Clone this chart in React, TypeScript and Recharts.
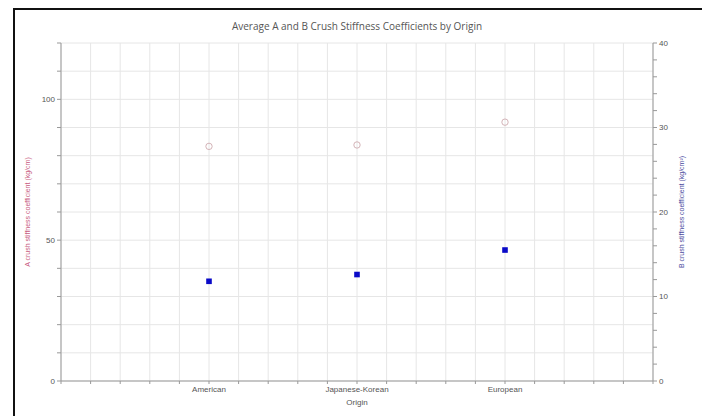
import React from "react";
import { ScatterChart, Scatter, XAxis, YAxis, CartesianGrid } from "recharts";

// categories sit on a 0..20 numeric origin axis
const origins = ["American", "Japanese-Korean", "European"];
const originPos = [5, 10, 15];
const aValues = [83.3, 83.8, 91.9]; // A crush stiffness (left axis)
const bValues = [11.8, 12.6, 15.5]; // B crush stiffness (right axis)

const xTicks = Array.from({ length: 21 }, (_, i) => i);
const aTicks = Array.from({ length: 13 }, (_, i) => i * 10);
const bTicks = Array.from({ length: 21 }, (_, i) => i * 2);
const aLabels = [0, 50, 100];
const bLabels = [0, 10, 20, 30, 40];

const aData = origins.map((name, i) => ({ name, x: originPos[i], y: aValues[i] }));
const bData = origins.map((name, i) => ({ name, x: originPos[i], y: bValues[i] }));

const tickStyle = { fontSize: 8, fill: "#555", fontFamily: "Liberation Sans, Arial, sans-serif" };

const OpenCircle = (props: any) => (
  <circle cx={props.cx} cy={props.cy} r={3.2} fill="none" stroke="#d4b4b8" strokeWidth={1} />
);
const FilledSquare = (props: any) => (
  <rect x={props.cx - 2.8} y={props.cy - 2.8} width={5.6} height={5.6} fill="#0a0ac8" />
);

export default function App() {
  return (
    <div style={{ position: "absolute", left: 0, top: 0, width: 704, height: 416, background: "#fff" }}>
      <div
        style={{
          position: "absolute",
          left: 13,
          top: 8,
          width: 687,
          height: 408,
          borderTop: "2px solid #111",
          borderLeft: "2px solid #111",
        }}
      />
      <div
        style={{
          position: "absolute",
          left: 0,
          top: 19,
          width: 714,
          textAlign: "center",
          fontSize: 10,
          color: "#555",
          fontFamily: "Open Sans, sans-serif",
        }}
      >
        Average A and B Crush Stiffness Coefficients by Origin
      </div>
      <div style={{ position: "absolute", left: 0, top: 0 }}>
        <ScatterChart width={704} height={416} margin={{ top: 43, right: 10, bottom: 5, left: 20 }}>
          <CartesianGrid stroke="#e6e6e6" strokeWidth={1} />
          <XAxis
            type="number"
            dataKey="x"
            domain={[0, 20]}
            ticks={xTicks}
            interval={0}
            height={30}
            tickSize={3}
            stroke="#999"
            tick={tickStyle}
            tickFormatter={(v: number) => {
              const i = originPos.indexOf(v);
              return i >= 0 ? origins[i] : "";
            }}
            label={{ value: "Origin", position: "insideBottom", offset: 6, fill: "#555", style: tickStyle }}
          />
          <YAxis
            type="number"
            dataKey="y"
            domain={[0, 120]}
            ticks={aTicks}
            interval={0}
            width={41}
            tickSize={4}
            stroke="#999"
            tick={tickStyle}
            tickFormatter={(v: number) => (aLabels.includes(v) ? String(v) : "")}
            label={{
              value: "A crush stiffness coefficient (kg/cm)",
              angle: -90,
              position: "insideLeft",
              offset: 8,
              fill: "#c85a80",
              style: { fontSize: 7, fill: "#c85a80", textAnchor: "middle", fontFamily: "Liberation Sans, Arial, sans-serif" },
            }}
          />
          <YAxis
            yAxisId="b"
            orientation="right"
            type="number"
            dataKey="y"
            domain={[0, 40]}
            ticks={bTicks}
            interval={0}
            width={41}
            tickSize={4}
            stroke="#999"
            tick={tickStyle}
            tickFormatter={(v: number) => (bLabels.includes(v) ? String(v) : "")}
            label={{
              value: "B crush stiffness coefficient (kg/cm²)",
              angle: -90,
              position: "insideRight",
              offset: 12,
              fill: "#4a4aa0",
              style: { fontSize: 7, fill: "#4a4aa0", textAnchor: "middle", fontFamily: "Liberation Sans, Arial, sans-serif" },
            }}
          />
          <Scatter data={aData} shape={OpenCircle} isAnimationActive={false} />
          <Scatter data={bData} yAxisId="b" shape={FilledSquare} isAnimationActive={false} />
        </ScatterChart>
      </div>
    </div>
  );
}
